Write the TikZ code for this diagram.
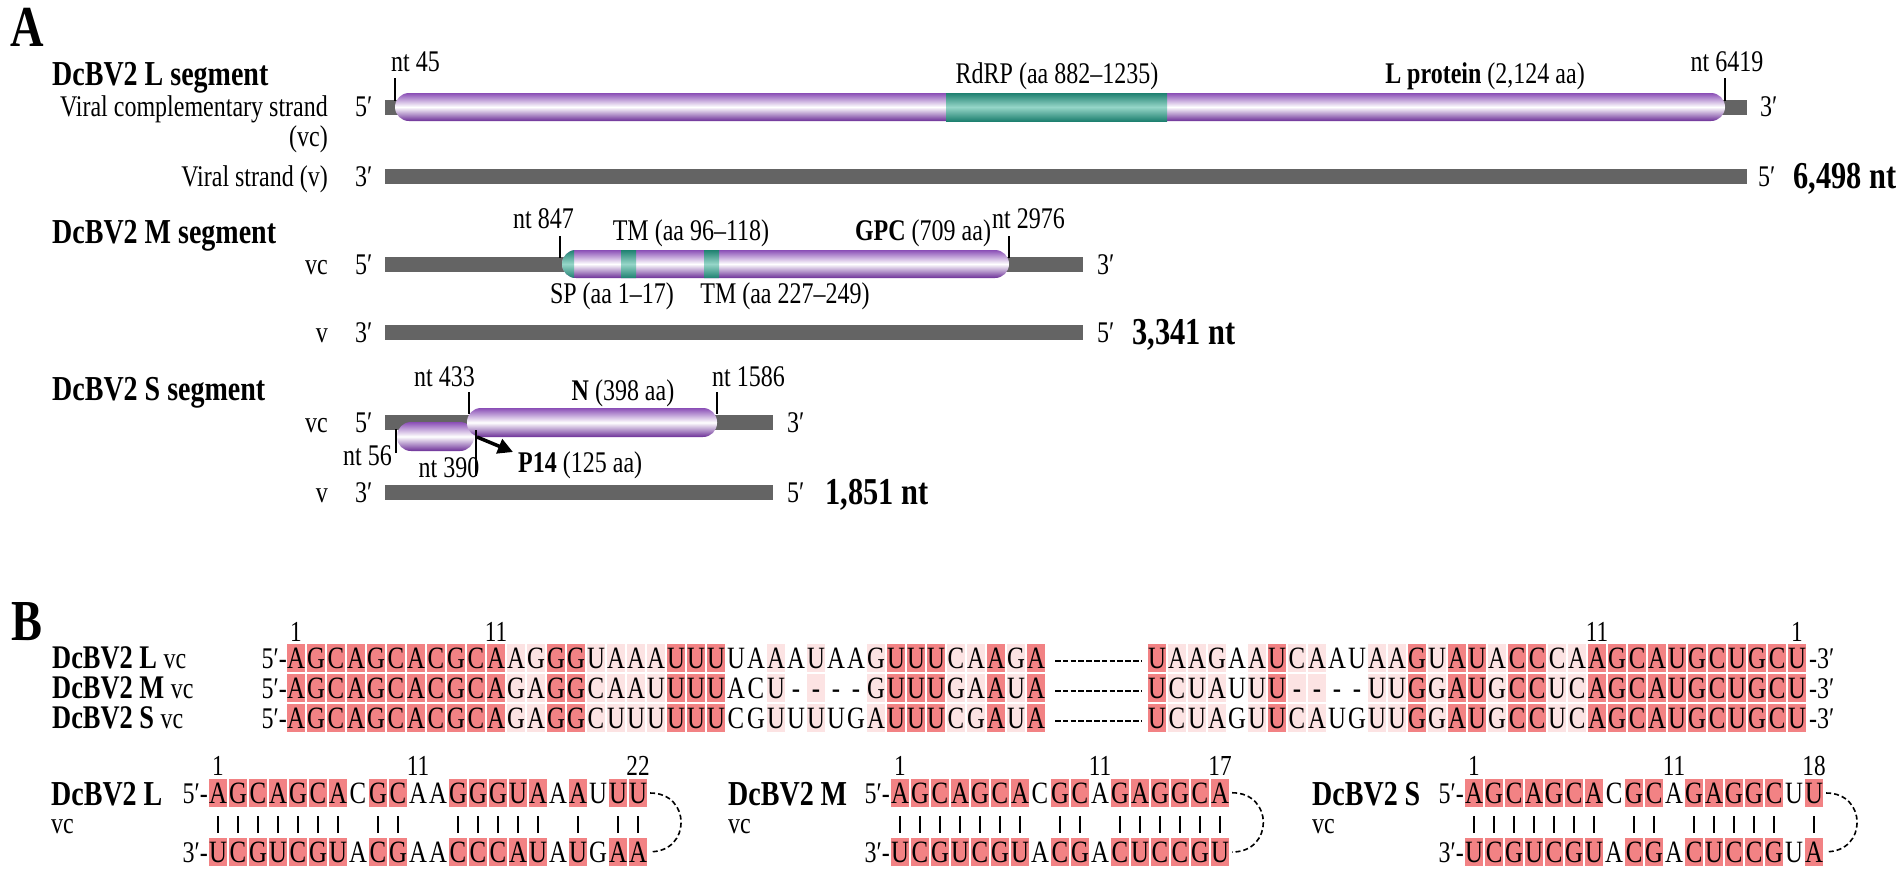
\documentclass[tikz,border=0pt]{standalone}
\usepackage{fontspec}
\setmainfont{Liberation Serif}[FakeStretch=0.8]
\usetikzlibrary{arrows.meta}

\definecolor{cellred}{RGB}{242,130,132}
\definecolor{cellpink}{RGB}{252,227,227}
\definecolor{strandgray}{RGB}{100,100,100}
\definecolor{orfpurple}{RGB}{138,78,182}
\definecolor{orfdark}{RGB}{108,48,152}
\definecolor{domteal}{RGB}{30,128,112}
\definecolor{domlight}{RGB}{150,214,200}

\newcommand{\fs}[1]{\fontsize{#1}{#1}\selectfont}

% ORF capsule: x1, x2, top y, bottom y
\newcommand{\orf}[4]{%
  \shade[top color=orfpurple, bottom color=orfdark, middle color=white,
    rounded corners=14pt] (#1,#3) rectangle (#2,#4);}
% domain band inside an ORF
\newcommand{\domain}[4]{%
  \shade[top color=domteal, bottom color=domteal, middle color=domlight]
    (#1,#3) rectangle (#2,#4);}
% one row of letters: name, x of first centre, y, letters
\newcommand{\seqrow}[4]{%
  \foreach \c [count=\k] in {#4}
    \node[nuc] (#1\k) at (#2+20*\k-20,#3+10) {\c};}
% shaded columns: x of first centre, colour, columns, row y list
\newcommand{\seqcols}[4]{%
  \foreach \k in {#3}
    \foreach \y in {#4}
      \fill[#2] (#1+20*\k-29,\y-14) rectangle +(18,28);}
% hairpin: name, x of first centre, top, bottom, paired columns, length
\newcommand{\hairpin}[6]{%
  \seqcols{#2}{cellred}{#5}{793,852}
  \foreach \k in {#5}
    \draw[bpline] (#2+20*\k-20,816) -- +(0,17);
  \seqrow{#1t}{#2}{793}{#3}
  \seqrow{#1b}{#2}{852}{#4}
  \node[posnum] (#1n1) at (#2,775) {1};
  \node[posnum] (#1n11) at (#2+200,775) {11};
  \node[posnum] (#1nn) at (#2+20*#6-20,775) {#6};
  \node[lab, anchor=base east] (#1five) at (#2-10,803) {5′-};
  \node[lab, anchor=base east] (#1three) at (#2-10,862) {3′-};
  \draw[hpdash] ([xshift=3pt]#1t#6.east) to[out=0,in=0,looseness=1.8] ([xshift=3pt]#1b#6.east);}

\begin{document}
\begin{tikzpicture}[x=1pt, y=-1pt,
    nuc/.style={anchor=base, inner sep=0pt, font=\fs{31}},
    lab/.style={anchor=base, inner sep=0pt, font=\fs{30}},
    segtitle/.style={anchor=base west, inner sep=0pt, font=\bfseries\fs{35}},
    rowtitle/.style={anchor=base west, inner sep=0pt, font=\bfseries\fs{33}},
    ntsize/.style={anchor=base west, inner sep=0pt, font=\bfseries\fs{38}},
    panel/.style={inner sep=0pt, font=\bfseries\fs{58}},
    posnum/.style={anchor=base, inner sep=0pt, font=\fs{29}},
    strand/.style={fill=strandgray},
    tickline/.style={line width=2.6pt},
    bpline/.style={line width=1.1pt},
    hpdash/.style={dash pattern=on 5pt off 3pt, line width=1.6pt},
    gapdash/.style={dash pattern=on 5.5pt off 2.3pt, line width=1.6pt},
    p14arrow/.style={line width=3.5pt, -{Triangle[length=15pt,width=15pt]}}]
\useasboundingbox (0,0) rectangle (1902,873);

% A: L segment
\node[panel] (pA) at (27,27) {A};
\node[segtitle] (Ltitle) at (52,85) {DcBV2 L segment};
\node[lab, anchor=base east] (Lvclab) at (328,116) {Viral complementary strand};
\node[lab, anchor=base east] (Lvcab) at (328,146) {(vc)};
\node[lab, anchor=base west] (L5a) at (355,116) {5′};
\fill[strand] (385,99.5) rectangle (1747,114.5);
\orf{395}{1725}{93}{121}
\domain{946}{1167}{93}{121}
\draw[tickline] (395,78) -- (395,101);
\draw[tickline] (1725,78) -- (1725,101);
\node[lab, anchor=base west] (nt45) at (391,71) {nt 45};
\node[lab] (rdrp) at (1057,83) {RdRP (aa 882–1235)};
\node[lab] (Lprot) at (1485,83) {\textbf{L protein} (2,124 aa)};
\node[lab] (nt6419) at (1727,71) {nt 6419};
\node[lab, anchor=base west] (L3a) at (1760,116) {3′};
\node[lab, anchor=base east] (Lvlab) at (328,186) {Viral strand (v)};
\node[lab, anchor=base west] (L3b) at (355,186) {3′};
\fill[strand] (385,168.5) rectangle (1747,183.5);
\node[lab, anchor=base west] (L5b) at (1758,186) {5′};
\node[ntsize] (Llen) at (1793,188) {6,498 nt};

% M segment
\node[segtitle] (Mtitle) at (52,243) {DcBV2 M segment};
\node[lab, anchor=base east] (nt847) at (574,228) {nt 847};
\node[lab] (tm1) at (691,240) {TM (aa 96–118)};
\node[lab] (gpc) at (923,240) {\textbf{GPC} (709 aa)};
\node[lab, anchor=base west] (nt2976) at (992,228) {nt 2976};
\node[lab, anchor=base east] (Mvclab) at (328,274) {vc};
\node[lab, anchor=base west] (M5a) at (355,274) {5′};
\fill[strand] (385,256.5) rectangle (1083,271.5);
\orf{562}{1009}{250}{278}
\begin{scope}
  \clip[rounded corners=14pt] (562,250) rectangle (1009,278);
  \domain{560}{574}{250}{278}
  \domain{621}{636}{250}{278}
  \domain{704}{719}{250}{278}
\end{scope}
\draw[tickline] (560,236) -- (560,258);
\draw[tickline] (1009,236) -- (1009,258);
\node[lab, anchor=base west] (M3a) at (1097,274) {3′};
\node[lab] (sp) at (612,303) {SP (aa 1–17)};
\node[lab] (tm2) at (785,303) {TM (aa 227–249)};
\node[lab, anchor=base east] (Mvlab) at (328,342) {v};
\node[lab, anchor=base west] (M3b) at (355,342) {3′};
\fill[strand] (385,324.5) rectangle (1083,339.5);
\node[lab, anchor=base west] (M5b) at (1097,342) {5′};
\node[ntsize] (Mlen) at (1132,344) {3,341 nt};

% S segment
\node[segtitle] (Stitle) at (52,400) {DcBV2 S segment};
\node[lab, anchor=base east] (nt433) at (475,386) {nt 433};
\node[lab] (nlab) at (623,400) {\textbf{N} (398 aa)};
\node[lab, anchor=base west] (nt1586) at (712,386) {nt 1586};
\node[lab, anchor=base east] (Svclab) at (328,432) {vc};
\node[lab, anchor=base west] (S5a) at (355,432) {5′};
\fill[strand] (385,414.5) rectangle (773,429.5);
\orf{397}{474}{422}{451}
\orf{467}{717}{408}{437}
\draw[tickline] (469,392) -- (469,414);
\draw[tickline] (717,392) -- (717,414);
\draw[tickline] (396,429) -- (396,453);
\draw[tickline] (476,430) -- (476,476);
\node[lab, anchor=base west] (S3a) at (787,432) {3′};
\node[lab, anchor=base east] (nt56) at (392,465) {nt 56};
\node[lab] (nt390) at (449,477) {nt 390};
\coordinate (p14tail) at (477,437);
\coordinate (p14tip) at (513,452);
\draw[p14arrow] (p14tail) -- (p14tip);
\node[lab, anchor=base west] (p14) at (518,472) {\textbf{P14} (125 aa)};
\node[lab, anchor=base east] (Svlab) at (328,502) {v};
\node[lab, anchor=base west] (S3b) at (355,502) {3′};
\fill[strand] (385,484.5) rectangle (773,499.5);
\node[lab, anchor=base west] (S5b) at (787,502) {5′};
\node[ntsize] (Slen) at (825,504) {1,851 nt};

% B: terminal alignment
\node[panel] (pB) at (27,622) {B};
\seqcols{296}{cellred}{1,...,11,14,15,20,21,22,31,32,33,36,38}{658,688,718}
\seqcols{296}{cellpink}{12,13,16,17,18,19,25,27,30,34,35,37}{658,688,718}
\seqcols{1157}{cellred}{1,7,14,16,17,19,20,23,24,25,26,27,28,29,30,31,32,33}{658,688,718}
\seqcols{1157}{cellpink}{2,3,4,6,8,9,12,13,15,18,21,22}{658,688,718}
\seqrow{La}{296}{658}{A,G,C,A,G,C,A,C,G,C,A,A,G,G,G,U,A,A,A,U,U,U,U,A,A,A,U,A,A,G,U,U,U,C,A,A,G,A}
\seqrow{Ma}{296}{688}{A,G,C,A,G,C,A,C,G,C,A,G,A,G,G,C,A,A,U,U,U,U,A,C,U,-,-,-,-,G,U,U,U,G,A,A,U,A}
\seqrow{Sa}{296}{718}{A,G,C,A,G,C,A,C,G,C,A,G,A,G,G,C,U,U,U,U,U,U,C,G,U,U,U,U,G,A,U,U,U,C,G,A,U,A}
\seqrow{Lz}{1157}{658}{U,A,A,G,A,A,U,C,A,A,U,A,A,G,U,A,U,A,C,C,C,A,A,G,C,A,U,G,C,U,G,C,U}
\seqrow{Mz}{1157}{688}{U,C,U,A,U,U,U,-,-,-,-,U,U,G,G,A,U,G,C,C,U,C,A,G,C,A,U,G,C,U,G,C,U}
\seqrow{Sz}{1157}{718}{U,C,U,A,G,U,U,C,A,U,G,U,U,G,G,A,U,G,C,C,U,C,A,G,C,A,U,G,C,U,G,C,U}
\node[posnum] (c1) at (296,641) {1};
\node[posnum] (c11) at (496,641) {11};
\node[posnum] (d11) at (1597,641) {11};
\node[posnum] (d1) at (1797,641) {1};
\foreach \r/\y in {L/658,M/688,S/718} {
  \node[rowtitle] (\r row) at (52,\y+10) {DcBV2 \r\ {\mdseries\fs{30}vc}};
  \node[lab, anchor=base east] (\r five) at (287,\y+10) {5′-};
  \node[lab, anchor=base west] (\r three) at (1809,\y+10) {-3′};
  \draw[gapdash] (1055,\y+3) -- (1142,\y+3);
}

% hairpins
\node[segtitle] (HLlab) at (51,805) {DcBV2 L};
\node[lab, anchor=base west] (HLvc) at (51,833) {vc};
\hairpin{HL}{218}{A,G,C,A,G,C,A,C,G,C,A,A,G,G,G,U,A,A,A,U,U,U}{U,C,G,U,C,G,U,A,C,G,A,A,C,C,C,A,U,A,U,G,A,A}{1,2,3,4,5,6,7,9,10,13,14,15,16,17,19,21,22}{22}
\node[segtitle] (HMlab) at (728,805) {DcBV2 M};
\node[lab, anchor=base west] (HMvc) at (728,833) {vc};
\hairpin{HM}{900}{A,G,C,A,G,C,A,C,G,C,A,G,A,G,G,C,A}{U,C,G,U,C,G,U,A,C,G,A,C,U,C,C,G,U}{1,2,3,4,5,6,7,9,10,12,13,14,15,16,17}{17}
\node[segtitle] (HSlab) at (1312,805) {DcBV2 S};
\node[lab, anchor=base west] (HSvc) at (1312,833) {vc};
\hairpin{HS}{1474}{A,G,C,A,G,C,A,C,G,C,A,G,A,G,G,C,U,U}{U,C,G,U,C,G,U,A,C,G,A,C,U,C,C,G,U,A}{1,2,3,4,5,6,7,9,10,12,13,14,15,16,18}{18}
\end{tikzpicture}
\end{document}
